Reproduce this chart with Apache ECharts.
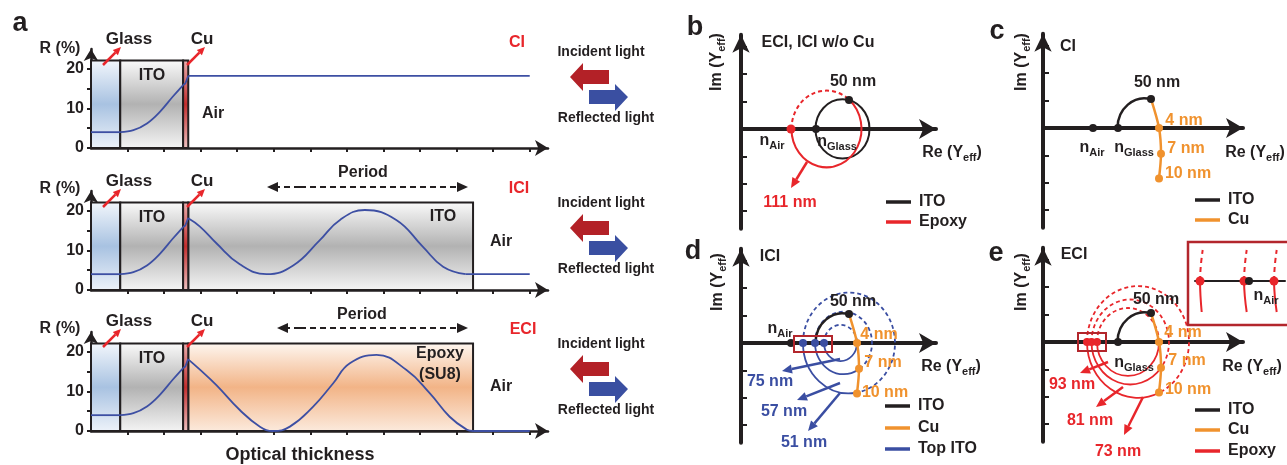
<!DOCTYPE html>
<html>
<head>
<meta charset="utf-8">
<title>Reflectance and admittance diagrams</title>
<script src="https://cdn.jsdelivr.net/npm/echarts@6.0.0/dist/echarts.min.js"></script>
<style>
html, body { margin: 0; padding: 0; background: #fff; }
#main { width: 1287px; height: 465px; }
</style>
</head>
<body>
<div id="main"></div>
<script>
// ---------- panel a : layers (optical thickness) ----------
var glassLayer = [[0, 0.8]];
var itoLayer = [[0.8, 2.52]];
var cuLayer = [[2.52, 2.66]];
var topLayer = [[2.66, 10.45]];
var layerTop = 22.1;

// reflectance R (%)
var rGlass = [[0, 4.0], [0.8, 4.0]];
var rIto = [[0.8, 4.0], [1.16, 4.5], [1.53, 6.2], [1.89, 9.2], [2.24, 13.0], [2.52, 15.9]];
var rCu = [[2.52, 15.9], [2.58, 16.3], [2.66, 18.2]];
var rCI = [[2.66, 18.2], [12, 18.2]];
var rICI = [[2.66, 18.1], [2.98, 16.0], [3.43, 11.8], [4.07, 6.5], [4.8, 4.0], [5.53, 6.2], [6.26, 12.6],
            [6.81, 17.7], [7.49, 20.2], [8.35, 17.7], [9.08, 10.9], [9.63, 5.9], [10.25, 4.0]];
var rICITail = [[10.25, 4.0], [12, 4.0]];
var rECI = [[2.66, 18.1], [2.98, 15.5], [3.43, 11.6], [4.07, 5.3], [4.62, 1.1], [4.98, 0.0], [5.44, 1.1],
            [6.07, 6.1], [6.62, 12.0], [7.08, 17.1], [7.81, 19.2], [8.63, 15.4], [9.27, 9.5], [9.81, 3.6],
            [10.27, 0.4], [10.45, 0.0]];
var rECITail = [[10.45, 0.0], [12, 0.0]];
var rTicks = [0, 5, 10, 15, 20];
var rLabels = [0, 10, 20];
var thicknessTicks = [1, 2, 3, 4, 5, 6, 7, 8, 9, 10, 11, 12];

// ---------- panels b-e : admittance loci  [centre Re, radius, from deg, to deg] ----------
var imTicks = [-1.5, -1, -0.5, 0.5, 1, 1.5];
var nAir = [[1.0, 0]];
var nGlass = [[1.5, 0]];
var ito50 = [[2.16, 0.53]];
var itoFull = [[2.03, 0.54, 180, -180]];
var itoArc = [[2.03, 0.54, 180, 76]];
var epoxyBSolid = [[1.71, 0.70, 49, -180]];
var epoxyBDash = [[1.71, 0.70, 180, 49]];
var cuPath = [[2.16, 0.53], [2.32, 0], [2.36, -0.47], [2.32, -0.92]];
var cuDots = [[2.32, 0], [2.36, -0.47], [2.32, -0.92]];
var topItoSolid = [[1.99, 0.33, 0, -180], [2.05, 0.57, -59, -180], [2.16, 0.92, -81, -180]];
var topItoDash = [[1.99, 0.33, 180, 0], [2.05, 0.57, 180, -59], [2.16, 0.92, 180, -81]];
var topItoDots = [[1.24, 0], [1.48, 0], [1.66, 0]];
var epoxySolid = [[1.70, 0.62, 0, -180], [1.745, 0.775, -37, -180], [1.90, 1.02, -66, -180]];
var epoxyDash = [[1.70, 0.62, 180, 0], [1.745, 0.775, 180, -37], [1.90, 1.02, 180, -66]];
var epoxyDots = [[0.88, 0], [0.97, 0], [1.08, 0]];
// inset of panel e (magnified around n_Air)
var insetDots = [[10, 0], [54, 0], [84, 0]];
var insetAir = [[59, 0]];
var insetUp = [[[10, 0], [10.8, 15], [12.7, 31]], [[54, 0], [54.8, 15], [56.7, 31]], [[84, 0], [84.8, 15], [86.7, 31]]];
var insetDown = [[[10, 0], [10.5, -15], [11.7, -31]], [[54, 0], [54.8, -15], [56.7, -31]], [[84, 0], [84.8, -15], [86.7, -31]]];

var FONT = '"Liberation Sans", Arial, Helvetica, sans-serif';
var INK = '#231f20';
var RED = '#e8262b';
var ORANGE = '#f0922e';
var BLUE = '#3a4ea2';
var CURVE = '#3d4fa3';
var BOXRED = '#b3262c';

var chart = echarts.init(document.getElementById('main'));

var grids = [], xAxes = [], yAxes = [], series = [], els = [];

// ---------- panel a grids ----------
[49, 191, 332].forEach(function (t, i) {
    grids.push({ left: 91, top: t, width: 457, height: 99 });
    xAxes.push({
        gridIndex: i, type: 'value', min: 0, max: 12.5,
        axisLine: { onZero: false, symbol: ['none', 'arrow'], symbolSize: [12, 13], lineStyle: { color: INK, width: 2.5 } },
        axisTick: { show: true, length: 4, customValues: thicknessTicks, lineStyle: { color: INK, width: 2 } },
        axisLabel: { show: false }, splitLine: { show: false }
    });
    yAxes.push({
        gridIndex: i, type: 'value', min: 0, max: 25,
        axisLine: { onZero: false, symbol: ['none', 'arrow'], symbolSize: [11, 12], lineStyle: { color: INK, width: 2.5 } },
        axisTick: { show: true, length: 4, customValues: rTicks, lineStyle: { color: INK, width: 2 } },
        axisLabel: { customValues: rLabels, color: INK, fontSize: 16, fontWeight: 'bold', fontFamily: FONT, margin: 7 },
        splitLine: { show: false }
    });
});

// ---------- panels b-e grids ----------
var adm = [
    { left: 741, top: 34.7, width: 195, max: 3.9 },
    { left: 1043, top: 33.7, width: 200, max: 4.0 },
    { left: 741, top: 248.7, width: 195, max: 3.9 },
    { left: 1043, top: 247.7, width: 200, max: 4.0 }
];
adm.forEach(function (g, k) {
    var i = 3 + k;
    grids.push({ left: g.left, top: g.top, width: g.width, height: 194 });
    xAxes.push({
        gridIndex: i, type: 'value', min: 0, max: g.max,
        axisLine: { symbol: ['none', 'arrow'], symbolSize: [15, 17], lineStyle: { color: INK, width: 4 } },
        axisTick: { show: false }, axisLabel: { show: false }, splitLine: { show: false }
    });
    yAxes.push({
        gridIndex: i, type: 'value', min: -1.82, max: 1.72,
        axisLine: { symbol: ['none', 'arrow'], symbolSize: [13, 18], lineStyle: { color: INK, width: 4 } },
        axisTick: { show: true, inside: true, length: 6, customValues: imTicks, lineStyle: { color: INK, width: 2 } },
        axisLabel: { show: false }, splitLine: { show: false }
    });
});

// inset grid (index 7)
grids.push({ left: 1195, top: 245, width: 90, height: 78 });
xAxes.push({ gridIndex: 7, type: 'value', min: 5, max: 95,
    axisLine: { lineStyle: { color: INK, width: 2 } }, axisTick: { show: false }, axisLabel: { show: false }, splitLine: { show: false } });
yAxes.push({ gridIndex: 7, type: 'value', min: -42, max: 36, show: false });

// ---------- series helpers ----------
function grad(stops) {
    return new echarts.graphic.LinearGradient(0, 0, 0, 1, stops.map(function (c, j) {
        return { offset: j / (stops.length - 1), color: c };
    }));
}
function band(gi, data, stops) {
    series.push({
        type: 'custom', xAxisIndex: gi, yAxisIndex: gi, data: data, silent: true, z: 1,
        renderItem: function (params, api) {
            var p0 = api.coord([api.value(0), 0]);
            var p1 = api.coord([api.value(1), layerTop]);
            return { type: 'rect', shape: { x: p0[0], y: p1[1], width: p1[0] - p0[0], height: p0[1] - p1[1] },
                style: { fill: grad(stops), stroke: INK, lineWidth: 2 } };
        }
    });
}
function curve(gi, data, smooth, color, width) {
    series.push({ type: 'line', xAxisIndex: gi, yAxisIndex: gi, data: data, smooth: smooth, showSymbol: false,
        silent: true, z: 4, lineStyle: { color: color || CURVE, width: width || 1.8 } });
}
function arcs(gi, data, color, dashed, width) {
    series.push({
        type: 'custom', xAxisIndex: gi, yAxisIndex: gi, data: data, silent: true, z: 3,
        renderItem: function (params, api) {
            var cx = api.value(0), r = api.value(1), a0 = api.value(2), a1 = api.value(3);
            var c = api.coord([cx, 0]);
            var rx = api.size([r, 0])[0], ry = api.size([0, r])[1];
            var steps = Math.ceil(Math.abs(a0 - a1) / 90);
            function pt(a) { var t = a * Math.PI / 180; return [c[0] + rx * Math.cos(t), c[1] - ry * Math.sin(t)]; }
            var p = pt(a0), d = 'M' + p[0] + ' ' + p[1];
            for (var s = 1; s <= steps; s++) {
                var q = pt(a0 + (a1 - a0) * s / steps);
                d += ' A' + rx + ' ' + ry + ' 0 0 ' + (a1 < a0 ? 1 : 0) + ' ' + q[0] + ' ' + q[1];
            }
            return { type: 'path', shape: { pathData: d },
                style: { fill: 'none', stroke: color, lineWidth: width || 2, lineDash: dashed ? [4, 3] : null } };
        }
    });
}
function dots(gi, data, color, size) {
    series.push({ type: 'scatter', xAxisIndex: gi, yAxisIndex: gi, data: data, symbolSize: size || 8,
        silent: true, z: 6, itemStyle: { color: color, opacity: 1 } });
}

// ---------- panel a series ----------
var GLASS = ['#f3f7fc', '#a8c2e1', '#eef3fa'];
var GRAY = ['#fbfbfb', '#b2b2b2', '#f5f5f5'];
var COPPER = ['#eab0b0', '#c42e2e', '#efc4c4'];
var EPOXY = ['#fef7f1', '#f2b487', '#fcebde'];
[0, 1, 2].forEach(function (gi) {
    band(gi, glassLayer, GLASS);
    band(gi, itoLayer, GRAY);
    if (gi === 1) band(gi, topLayer, GRAY);
    if (gi === 2) band(gi, topLayer, EPOXY);
    band(gi, cuLayer, COPPER);
    curve(gi, rGlass, false);
    curve(gi, rIto, 0.4);
    curve(gi, rCu, false);
});
curve(0, rCI, false);
curve(1, rICI, 0.45);
curve(1, rICITail, false);
curve(2, rECI, 0.45);
curve(2, rECITail, false);

// ---------- panel b ----------
arcs(3, itoFull, INK, false, 2);
arcs(3, epoxyBSolid, RED, false, 2);
arcs(3, epoxyBDash, RED, true, 2);
dots(3, nGlass, INK);
dots(3, ito50, INK);
dots(3, nAir, RED, 9);

// ---------- panel c ----------
arcs(4, itoArc, INK, false, 2.5);
curve(4, cuPath, 0.3, ORANGE, 2.5);
dots(4, nAir, INK);
dots(4, nGlass, INK);
dots(4, ito50, INK);
dots(4, cuDots, ORANGE);

// ---------- panel d ----------
arcs(5, topItoDash, BLUE, true, 1.8);
arcs(5, topItoSolid, BLUE, false, 1.8);
arcs(5, itoArc, INK, false, 2.5);
curve(5, cuPath, 0.3, ORANGE, 2.5);
dots(5, nAir, INK);
dots(5, ito50, INK);
dots(5, cuDots, ORANGE);
dots(5, topItoDots, BLUE);

// ---------- panel e ----------
arcs(6, epoxyDash, RED, true, 1.8);
arcs(6, epoxySolid, RED, false, 1.8);
arcs(6, itoArc, INK, false, 2.5);
curve(6, cuPath, 0.3, ORANGE, 2.5);
dots(6, nGlass, INK);
dots(6, ito50, INK);
dots(6, nAir, INK, 6);
dots(6, cuDots, ORANGE);
dots(6, epoxyDots, RED);

// inset
insetUp.forEach(function (d) {
    series.push({ type: 'line', xAxisIndex: 7, yAxisIndex: 7, data: d, smooth: true, showSymbol: false, silent: true, z: 3,
        lineStyle: { color: RED, width: 2, type: [5, 4] } });
});
insetDown.forEach(function (d) { curve(7, d, true, RED, 2); });
dots(7, insetDots, RED, 9);
dots(7, insetAir, INK, 8);

// ---------- annotations ----------
function text(x, y, s, opt) {
    var st = { text: s, fill: INK, fontSize: 16, fontWeight: 'bold', fontFamily: FONT, align: 'center', verticalAlign: 'middle' };
    for (var k in opt || {}) st[k] = opt[k];
    els.push({ type: 'text', x: x, y: y, silent: true, z: 100, style: st });
}
function subText(x, y, main, sub, size, color, rot, tail) {
    els.push({ type: 'text', x: x, y: y, rotation: rot || 0, silent: true, z: 100,
        style: { text: '{m|' + main + '}{s|' + sub + '}' + (tail ? '{m|' + tail + '}' : ''),
            align: 'center', verticalAlign: 'middle',
            rich: {
                m: { fontSize: size, fontWeight: 'bold', fontFamily: FONT, fill: color || INK },
                s: { fontSize: Math.round(size * 0.68), fontWeight: 'bold', fontFamily: FONT, fill: color || INK,
                     padding: [Math.round(size * 0.55), 0, 0, 0] }
            } } });
}
function arrow(x0, y0, x1, y1, color, w, head, dashed) {
    var a = Math.atan2(y1 - y0, x1 - x0);
    var hx = x1 - head * Math.cos(a), hy = y1 - head * Math.sin(a);
    var px = -Math.sin(a) * head * 0.45, py = Math.cos(a) * head * 0.45;
    els.push({ type: 'line', silent: true, z: 90, shape: { x1: x0, y1: y0, x2: hx, y2: hy },
        style: { stroke: color, lineWidth: w, lineDash: dashed ? [6, 4] : null } });
    els.push({ type: 'polygon', silent: true, z: 90, shape: { points: [[x1, y1], [hx + px, hy + py], [hx - px, hy - py]] },
        style: { fill: color } });
}
function legendRow(x, y, color, label) {
    els.push({ type: 'line', silent: true, z: 90, shape: { x1: x, y1: y, x2: x + 25, y2: y }, style: { stroke: color, lineWidth: 3.5 } });
    text(x + 33, y, label, { align: 'left' });
}

// panel a
text(20, 24, 'a', { fontSize: 27 });
var rowTextY = [39, 181, 321];
var rowRY = [49, 189, 329];
var rowITOY = [76, 218, 359];
rowTextY.forEach(function (y, i) {
    text(60, rowRY[i], 'R (%)');
    text(129, y, 'Glass', { fontSize: 17 });
    text(202, y, 'Cu', { fontSize: 17 });
    arrow(103, y + 26, 121, y + 8, RED, 2.5, 8);
    arrow(187, y + 26, 205, y + 8, RED, 2.5, 8);
    text(152, rowITOY[i], 'ITO');
});
text(213, 114, 'Air');
text(443, 217, 'ITO');
text(501, 242, 'Air');
text(440, 354, 'Epoxy');
text(440, 375, '(SU8)');
text(501, 387, 'Air');
text(517, 43, 'CI', { fill: RED });
text(519, 189, 'ICI', { fill: RED });
text(523, 330, 'ECI', { fill: RED });
text(363, 173, 'Period');
text(362, 315, 'Period');
arrow(300, 187, 468, 187, INK, 2, 11, true);
arrow(300, 187, 267, 187, INK, 2, 11, true);
arrow(300, 328, 468, 328, INK, 2, 11, true);
arrow(300, 328, 277, 328, INK, 2, 11, true);
text(300, 455, 'Optical thickness', { fontSize: 18 });

[0, 151, 292].forEach(function (o) {
    text(601, 52 + o, 'Incident light', { fontSize: 14 });
    text(606, 118 + o, 'Reflected light', { fontSize: 14 });
    els.push({ type: 'polygon', silent: true, z: 90,
        shape: { points: [[570, 77 + o], [583, 63 + o], [583, 70 + o], [609, 70 + o], [609, 84 + o], [583, 84 + o], [583, 91 + o]] },
        style: { fill: '#b32127' } });
    els.push({ type: 'polygon', silent: true, z: 90,
        shape: { points: [[628, 97 + o], [615, 84 + o], [615, 90 + o], [589, 90 + o], [589, 104 + o], [615, 104 + o], [615, 111 + o]] },
        style: { fill: '#3a4fa1' } });
});

// panel b
text(695, 28, 'b', { fontSize: 27 });
subText(717, 62, 'Im (Y', 'eff', 16, INK, Math.PI / 2, ')');
text(818, 43, 'ECI, ICI w/o Cu');
text(853, 82, '50 nm');
subText(772, 141, 'n', 'Air', 16);
subText(837, 142, 'n', 'Glass', 16);
subText(952, 153, 'Re (Y', 'eff', 16, INK, 0, ')');
arrow(807, 162, 791, 188, RED, 2.5, 10);
text(790, 203, '111 nm', { fill: RED });
legendRow(886, 202, INK, 'ITO');
legendRow(886, 222, RED, 'Epoxy');

// panel c
text(997, 32, 'c', { fontSize: 27 });
subText(1022, 62, 'Im (Y', 'eff', 16, INK, Math.PI / 2, ')');
text(1068, 47, 'CI');
text(1157, 83, '50 nm');
text(1184, 121, '4 nm', { fill: ORANGE });
text(1186, 149, '7 nm', { fill: ORANGE });
text(1188, 174, '10 nm', { fill: ORANGE });
subText(1092, 148, 'n', 'Air', 16);
subText(1134, 148, 'n', 'Glass', 16);
subText(1255, 153, 'Re (Y', 'eff', 16, INK, 0, ')');
legendRow(1195, 200, INK, 'ITO');
legendRow(1195, 220, ORANGE, 'Cu');

// panel d
text(693, 252, 'd', { fontSize: 27 });
subText(718, 282, 'Im (Y', 'eff', 16, INK, Math.PI / 2, ')');
text(770, 257, 'ICI');
text(853, 302, '50 nm');
subText(780, 329, 'n', 'Air', 16);
text(879, 335, '4 nm', { fill: ORANGE });
text(883, 363, '7 nm', { fill: ORANGE });
text(885, 393, '10 nm', { fill: ORANGE });
subText(951, 367, 'Re (Y', 'eff', 16, INK, 0, ')');
els.push({ type: 'rect', silent: true, z: 95, shape: { x: 794, y: 336, width: 38, height: 16 }, style: { fill: 'none', stroke: BOXRED, lineWidth: 2 } });
arrow(840, 359, 782, 371, BLUE, 2.5, 10);
arrow(840, 383, 797, 400, BLUE, 2.5, 10);
arrow(840, 393, 808, 431, BLUE, 2.5, 10);
text(770, 382, '75 nm', { fill: BLUE });
text(784, 412, '57 nm', { fill: BLUE });
text(804, 443, '51 nm', { fill: BLUE });
legendRow(885, 406, INK, 'ITO');
legendRow(885, 428, ORANGE, 'Cu');
legendRow(885, 449, BLUE, 'Top ITO');

// panel e
text(996, 254, 'e', { fontSize: 27 });
subText(1022, 282, 'Im (Y', 'eff', 16, INK, Math.PI / 2, ')');
text(1074, 255, 'ECI');
text(1156, 300, '50 nm');
subText(1134, 363, 'n', 'Glass', 16);
text(1183, 333, '4 nm', { fill: ORANGE });
text(1187, 361, '7 nm', { fill: ORANGE });
text(1188, 390, '10 nm', { fill: ORANGE });
subText(1252, 367, 'Re (Y', 'eff', 16, INK, 0, ')');
els.push({ type: 'rect', silent: true, z: 95, shape: { x: 1078, y: 333, width: 28, height: 18 }, style: { fill: 'none', stroke: BOXRED, lineWidth: 2 } });
arrow(1108, 362, 1080, 373, RED, 2.5, 10);
arrow(1123, 387, 1096, 407, RED, 2.5, 10);
arrow(1143, 397, 1124, 435, RED, 2.5, 10);
text(1072, 385, '93 nm', { fill: RED });
text(1090, 421, '81 nm', { fill: RED });
text(1118, 452, '73 nm', { fill: RED });
legendRow(1195, 410, INK, 'ITO');
legendRow(1195, 430, ORANGE, 'Cu');
legendRow(1195, 451, RED, 'Epoxy');
els.push({ type: 'rect', silent: true, z: 95, shape: { x: 1188, y: 242, width: 120, height: 83 }, style: { fill: 'none', stroke: BOXRED, lineWidth: 2.5 } });
subText(1266, 296, 'n', 'Air', 16);

chart.setOption({
    animation: false,
    backgroundColor: '#fff',
    grid: grids,
    xAxis: xAxes,
    yAxis: yAxes,
    series: series,
    graphic: { elements: els }
});
</script>
</body>
</html>
